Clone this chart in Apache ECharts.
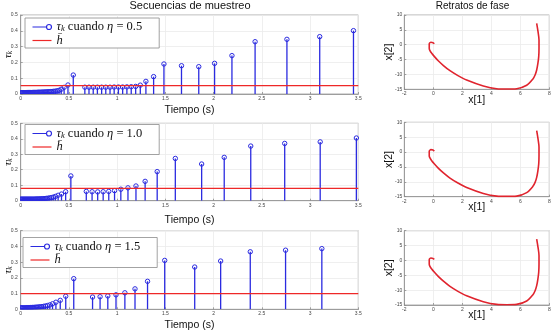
<!DOCTYPE html>
<html><head><meta charset="utf-8">
<script src="https://cdn.jsdelivr.net/npm/echarts@6/dist/echarts.min.js"></script>
<style>html,body{margin:0;padding:0;background:#fff}#c{width:555px;height:334px}</style>
</head><body><div id="c"></div>
<script>
// ---------- data ----------
const etaLabels = ['0.5', '1.0', '1.5'];
const timeTicks = [0, 0.5, 1, 1.5, 2, 2.5, 3, 3.5];
const tauTicks = [0, 0.1, 0.2, 0.3, 0.4, 0.5];
const x1Ticks = [-2, 0, 2, 4, 6, 8];
const x2Ticks = [-15, -10, -5, 0, 5, 10];

// eta = 0.5
const t1 = [0, 0.008, 0.016, 0.024, 0.032, 0.040, 0.048, 0.056, 0.064, 0.073, 0.082, 0.091, 0.100, 0.109, 0.118, 0.127, 0.137, 0.147, 0.157, 0.167, 0.177, 0.188, 0.199, 0.210, 0.221, 0.233, 0.245, 0.257, 0.270, 0.283, 0.297, 0.311, 0.326, 0.342, 0.359, 0.377, 0.397, 0.420, 0.450, 0.490, 0.545,
  0.665, 0.708, 0.752, 0.795, 0.839, 0.882, 0.926, 0.969, 1.013, 1.057, 1.101, 1.146, 1.192, 1.240, 1.298, 1.378, 1.485, 1.667, 1.846, 2.010, 2.190, 2.430, 2.760, 3.100, 3.450];
const v1 = [0.008, 0.008, 0.008, 0.008, 0.008, 0.008, 0.008, 0.008, 0.009, 0.009, 0.009, 0.009, 0.009, 0.009, 0.009, 0.010, 0.010, 0.010, 0.010, 0.010, 0.011, 0.011, 0.011, 0.011, 0.012, 0.012, 0.012, 0.013, 0.013, 0.014, 0.014, 0.015, 0.016, 0.017, 0.018, 0.020, 0.023, 0.030, 0.042, 0.057, 0.120,
  0.043, 0.043, 0.043, 0.043, 0.043, 0.043, 0.043, 0.044, 0.044, 0.044, 0.045, 0.046, 0.048, 0.056, 0.080, 0.110, 0.190, 0.179, 0.173, 0.194, 0.243, 0.331, 0.346, 0.363, 0.401];
// eta = 1.0
const t2 = [0, 0.010, 0.020, 0.030, 0.040, 0.050, 0.060, 0.070, 0.080, 0.090, 0.100, 0.110, 0.120, 0.130, 0.140, 0.150, 0.160, 0.171, 0.182, 0.193, 0.204, 0.216, 0.228, 0.241, 0.254, 0.268, 0.283, 0.299, 0.317, 0.337, 0.360, 0.388, 0.423, 0.466, 0.520,
  0.680, 0.740, 0.798, 0.855, 0.913, 0.973, 1.038, 1.112, 1.195, 1.290, 1.415, 1.603, 1.876, 2.110, 2.385, 2.737, 3.105, 3.480];
const v2 = [0.010, 0.010, 0.010, 0.010, 0.010, 0.010, 0.010, 0.010, 0.010, 0.010, 0.010, 0.010, 0.010, 0.010, 0.010, 0.010, 0.011, 0.011, 0.011, 0.011, 0.012, 0.012, 0.013, 0.013, 0.014, 0.015, 0.016, 0.018, 0.020, 0.023, 0.028, 0.035, 0.043, 0.058, 0.160,
  0.060, 0.058, 0.057, 0.058, 0.060, 0.065, 0.074, 0.083, 0.095, 0.125, 0.188, 0.273, 0.237, 0.280, 0.353, 0.370, 0.380, 0.405];
// eta = 1.5
const t3 = [0, 0.010, 0.019, 0.028, 0.037, 0.046, 0.055, 0.064, 0.074, 0.084, 0.094, 0.104, 0.115, 0.126, 0.138, 0.150, 0.163, 0.176, 0.190, 0.205, 0.221, 0.238, 0.257, 0.278, 0.302, 0.330, 0.365, 0.410, 0.467, 0.550,
  0.745, 0.823, 0.903, 0.988, 1.080, 1.185, 1.315, 1.493, 1.804, 2.073, 2.380, 2.746, 3.122];
const v3 = [0.010, 0.009, 0.009, 0.009, 0.009, 0.009, 0.009, 0.010, 0.010, 0.010, 0.010, 0.011, 0.011, 0.012, 0.012, 0.013, 0.013, 0.014, 0.015, 0.016, 0.017, 0.019, 0.021, 0.024, 0.028, 0.035, 0.045, 0.057, 0.083, 0.195,
  0.078, 0.080, 0.085, 0.092, 0.105, 0.130, 0.178, 0.311, 0.269, 0.307, 0.366, 0.376, 0.386];

const hbar = [0.053, 0.080, 0.100];

// phase portrait (x[1], x[2])
const phaseX = [7.13, 7.22, 7.29, 7.29, 7.27, 7.21, 7.13, 7.02, 6.86, 6.44, 5.75, 5.06, 4.37, 3.45, 2.30, 1.70, 1.15, 0.70, 0.34, 0.08, -0.11, -0.24, -0.28, -0.28, -0.16, -0.02, 0.07];
const phaseY = [7.2, 4.5, 1.6, -1.2, -4.0, -6.4, -8.5, -10.2, -11.6, -13.65, -14.8, -14.9, -14.8, -13.9, -11.9, -10.4, -8.74, -7.0, -5.38, -4.0, -2.89, -1.9, -1.2, 0.24, 0.81, 0.68, 0.34];

// ---------- styling / layout ----------
const C_STEM = '#2b2be0', C_RED = '#ee2828', C_PHASE = '#e0242e';
const SANS = 'Liberation Sans', SERIF = 'Liberation Serif';
const stemT = [t1, t2, t3], stemV = [v1, v2, v3];
const stemGrid = [{top: 15, height: 79}, {top: 123.3, height: 77.4}, {top: 230.7, height: 78.6}];
const phaseGrid = [{top: 15, height: 74.3}, {top: 122.3, height: 74.4}, {top: 230.7, height: 74.3}];
const legendPos = [{left: 25, top: 18}, {left: 25, top: 124.5}, {left: 23, top: 237.5}];
const timeNameGap = [11, 14, 10];
const stemIcon = 'path://M0,4L14,4M14,4A2.5,2.5,0,0,1,19,4A2.5,2.5,0,0,1,14,4';
const lineIcon = 'path://M0,0L19,0L19,1.2L0,1.2Z';

function axisCommon() {
  return {
    axisLine: {show: true, onZero: false, lineStyle: {color: '#8a8a8a', width: 0.8}},
    axisTick: {show: true, inside: true, length: 2, lineStyle: {color: '#8a8a8a', width: 0.8}},
    splitLine: {show: true, lineStyle: {color: '#ebebeb', width: 0.8}},
    nameMoveOverlap: false
  };
}

const grids = [], xAxes = [], yAxes = [], series = [], legends = [];
for (let i = 0; i < 3; i++) {
  grids.push({left: 20.7, top: stemGrid[i].top, width: 337.6, height: stemGrid[i].height,
    show: true, borderColor: '#9a9a9a', borderWidth: 0.8, backgroundColor: '#fff', containLabel: false, outerBoundsMode: 'none'});
}
for (let i = 0; i < 3; i++) {
  grids.push({left: 404.3, top: phaseGrid[i].top, width: 145, height: phaseGrid[i].height,
    show: true, borderColor: '#9a9a9a', borderWidth: 0.8, backgroundColor: '#fff', containLabel: false, outerBoundsMode: 'none'});
}

for (let i = 0; i < 3; i++) {
  xAxes.push(Object.assign(axisCommon(), {
    gridIndex: i, type: 'value', min: timeTicks[0], max: timeTicks[timeTicks.length - 1], interval: timeTicks[1] - timeTicks[0],
    name: 'Tiempo (s)', nameLocation: 'middle', nameGap: timeNameGap[i],
    nameTextStyle: {fontFamily: SANS, fontSize: 10.5, color: '#111'},
    axisLabel: {fontFamily: SANS, fontSize: 5, color: '#444', margin: 2}
  }));
  yAxes.push(Object.assign(axisCommon(), {
    gridIndex: i, type: 'value', min: tauTicks[0], max: tauTicks[tauTicks.length - 1], interval: tauTicks[1] - tauTicks[0],
    name: '{i|τ}{s|k}', nameLocation: 'middle', nameRotate: 90, nameGap: 7,
    nameTextStyle: {rich: {
      i: {fontFamily: SERIF, fontStyle: 'italic', fontSize: 11, lineHeight: 12, color: '#111'},
      s: {fontFamily: SERIF, fontStyle: 'italic', fontSize: 7.5, lineHeight: 5, verticalAlign: 'bottom', color: '#111'}
    }},
    axisLabel: {fontFamily: SANS, fontSize: 5, color: '#444', margin: 3}
  }));
}
for (let i = 0; i < 3; i++) {
  xAxes.push(Object.assign(axisCommon(), {
    gridIndex: 3 + i, type: 'value', min: x1Ticks[0], max: x1Ticks[x1Ticks.length - 1], interval: x1Ticks[1] - x1Ticks[0],
    name: 'x[1]', nameLocation: 'middle', nameGap: 5,
    nameTextStyle: {fontFamily: SANS, fontSize: 10.5, color: '#111'},
    axisLabel: {fontFamily: SANS, fontSize: 5, color: '#444', margin: 2}
  }));
  yAxes.push(Object.assign(axisCommon(), {
    gridIndex: 3 + i, type: 'value', min: x2Ticks[0], max: x2Ticks[x2Ticks.length - 1], interval: x2Ticks[1] - x2Ticks[0],
    name: 'x[2]', nameLocation: 'middle', nameRotate: 90, nameGap: 10,
    nameTextStyle: {fontFamily: SANS, fontSize: 10.5, color: '#111'},
    axisLabel: {fontFamily: SANS, fontSize: 5, color: '#444', margin: 2}
  }));
}

function renderStem(params, api) {
  const x = api.value(0), y = api.value(1);
  const p0 = api.coord([x, 0]);
  const p1 = api.coord([x, y]);
  return {type: 'group', children: [
    {type: 'line', shape: {x1: p0[0], y1: p0[1], x2: p1[0], y2: p1[1]}, style: {stroke: C_STEM, lineWidth: 1.3}},
    {type: 'circle', shape: {cx: p1[0], cy: p1[1], r: 2.2}, style: {fill: 'none', stroke: C_STEM, lineWidth: 1}}
  ]};
}

for (let i = 0; i < 3; i++) {
  series.push({
    type: 'custom', name: 's' + i, xAxisIndex: i, yAxisIndex: i,
    data: stemT[i].map((t, k) => [t, stemV[i][k]]),
    renderItem: renderStem, itemStyle: {color: C_STEM}, clip: true, animation: false, z: 2, silent: true
  });
  series.push({
    type: 'line', name: 'h' + i, xAxisIndex: i, yAxisIndex: i,
    data: [[timeTicks[0], hbar[i]], [timeTicks[timeTicks.length - 1], hbar[i]]],
    symbol: 'none', showSymbol: false, lineStyle: {color: C_RED, width: 1.2}, itemStyle: {color: C_RED}, z: 3, animation: false, silent: true
  });
  series.push({
    type: 'line', name: 'p' + i, xAxisIndex: 3 + i, yAxisIndex: 3 + i,
    data: phaseX.map((x, k) => [x, phaseY[k]]),
    symbol: 'none', smooth: 0.3, lineStyle: {color: C_PHASE, width: 1.6}, itemStyle: {color: C_PHASE}, animation: false, silent: true
  });
  legends.push({
    orient: 'vertical', left: legendPos[i].left, top: legendPos[i].top,
    data: [
      {name: 's' + i, icon: stemIcon, itemStyle: {color: 'none', borderColor: C_STEM, borderWidth: 1.2}},
      {name: 'h' + i, icon: lineIcon, itemStyle: {color: C_RED, borderWidth: 0}}
    ],
    formatter: (name) => name.charAt(0) === 's'
      ? '{i|τ}{s|k}{n| cuando }{i|η}{n| = ' + etaLabels[i] + '}'
      : '{i|h\u0304}',
    itemWidth: 19, itemHeight: 5, itemGap: 0.5,
    padding: [2.5, 17, 1, 5],
    backgroundColor: '#fff', borderColor: '#8c8c8c', borderWidth: 0.8, borderRadius: 0,
    selectedMode: false,
    textStyle: {fontFamily: SERIF, fontSize: 12.5, color: '#111', rich: {
      i: {fontFamily: SERIF, fontStyle: 'italic', fontSize: 12.5, lineHeight: 13, color: '#111'},
      s: {fontFamily: SERIF, fontStyle: 'italic', fontSize: 8.5, lineHeight: 6, verticalAlign: 'bottom', color: '#111'},
      n: {fontFamily: SERIF, fontSize: 12.5, lineHeight: 13, color: '#111'}
    }}
  });
}

const chart = echarts.init(document.getElementById('c'), null, {renderer: 'canvas'});
chart.setOption({
  animation: false,
  backgroundColor: '#fff',
  grid: grids, xAxis: xAxes, yAxis: yAxes, series: series, legend: legends,
  graphic: [
    {type: 'text', x: 190, y: 6.3, style: {text: 'Secuencias de muestreo', fontFamily: SANS, fontSize: 11, fill: '#111', textAlign: 'center', textVerticalAlign: 'middle'}},
    {type: 'text', x: 472.5, y: 6.3, style: {text: 'Retratos de fase', fontFamily: SANS, fontSize: 10, fill: '#111', textAlign: 'center', textVerticalAlign: 'middle'}}
  ]
});
</script></body></html>
